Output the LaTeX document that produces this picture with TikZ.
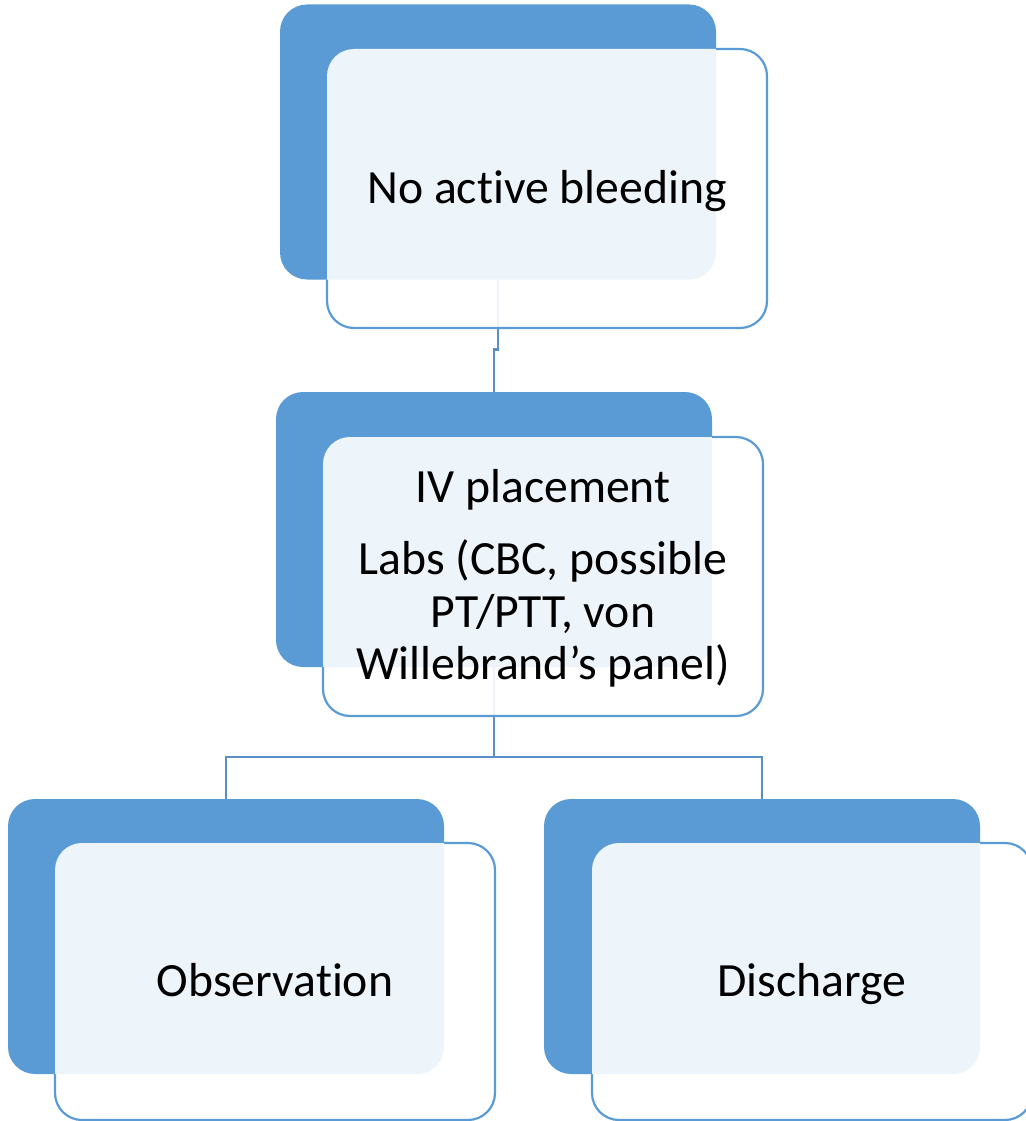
\documentclass[tikz,border=0pt]{standalone}
\usepackage{fontspec}
\setmainfont{Carlito}[Ligatures=NoCommon]
\definecolor{darkblue}{HTML}{5B9BD5}
\definecolor{connblue}{HTML}{5A8EC8}
\pgfdeclarelayer{conn}
\pgfdeclarelayer{front}
\pgfsetlayers{conn,main,front}
\tikzset{
  darkbox/.style={fill=darkblue, draw=none, rounded corners=27pt,
    minimum width=436pt, minimum height=275pt, inner sep=0pt, outer sep=0pt},
  frontbox/.style={fill=white, fill opacity=0.9, text opacity=1, draw=none,
    rounded corners=27pt, minimum width=440pt, minimum height=279pt,
    inner sep=0pt, outer sep=0pt, align=center, text=black},
  bigtext/.style={font=\fontsize{47.7}{57}\selectfont, text height=37pt, text depth=8pt},
  midtext/.style={font=\fontsize{47.7}{52.5}\selectfont},
  connline/.style={draw=connblue, line width=2.8pt},
  frontborder/.style={draw=darkblue, line width=2.2pt}
}
\begin{document}
\begin{tikzpicture}[x=1pt,y=-1pt]
\useasboundingbox (0,0) rectangle (1025,1121);
\clip (0,0) rectangle (1025,1121);
% dark back boxes
\node[darkbox] (d1) at (498,142) {};
\node[darkbox] (d2) at (494,529.5) {};
\node[darkbox] (d3) at (226,936.5) {};
\node[darkbox] (d4) at (762,936.5) {};
% light front boxes with text
\begin{pgfonlayer}{front}
\node[frontbox, bigtext] (f1) at (547,188.5) {No active bleeding};
\node[frontbox] (f2) at (543,576.5) {};
\node[midtext, align=center, inner sep=0pt] (f2text) at (543,578.5) {IV placement\\[19.5pt]Labs (CBC, possible\\PT/PTT, von\\Willebrand’s panel)};
\node[frontbox, bigtext, minimum height=277pt] (f3) at (275,981.5) {Observation};
\node[frontbox, bigtext, minimum height=277pt] (f4) at (812,981.5) {Discharge};
% front borders, hidden where they lie over the dark boxes
\foreach \f/\d in {f1/d1,f2/d2,f3/d3,f4/d4}{
  \begin{scope}[even odd rule, rounded corners=27pt]
    \clip (-20,-20) rectangle (1060,1150) (\d.north west) rectangle (\d.south east);
    \draw[frontborder] (\f.north west) rectangle (\f.south east);
  \end{scope}
}
\end{pgfonlayer}
% connectors
\begin{pgfonlayer}{conn}
\draw[connline] (d1.south) -- ++(0,70) -| (d2.north);
\draw[connline] (d2.south) -- ++(0,90) coordinate (bus);
\draw[connline] (d3.north) |- (bus) -| (d4.north);
\end{pgfonlayer}
\end{tikzpicture}
\end{document}
